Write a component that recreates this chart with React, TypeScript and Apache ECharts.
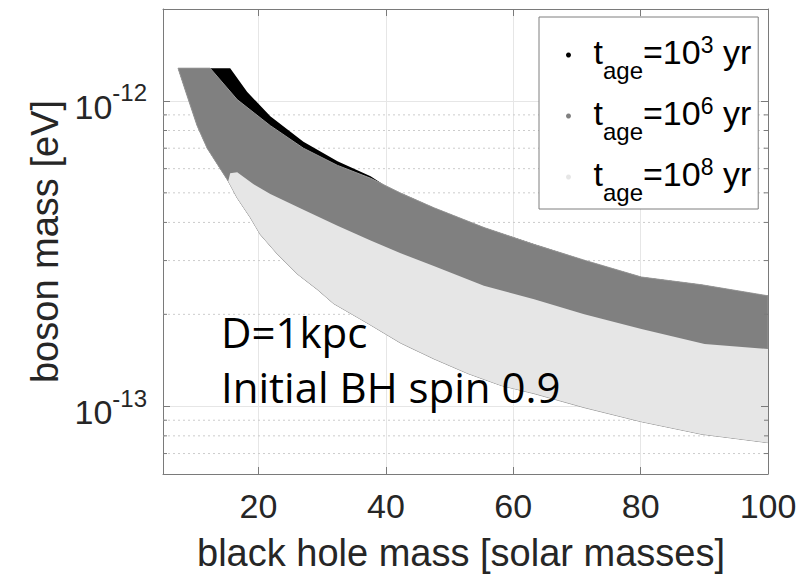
import React, { useEffect, useRef } from 'react';
import * as echarts from 'echarts';

const FONT = '"Liberation Sans", Arial, Helvetica, sans-serif';
const AXIS_COLOR = '#7a7a7a';
const LABEL_COLOR = '#262626';

// axis ranges
const massMin = 5;
const massMax = 100;
const bosonMin = 6e-14;
const bosonMax = 2e-12;

// tick labels
const massTickLabels = [20, 40, 60, 80, 100];
const bosonDecades = [-13, -12];
const minorBosonTicks = [7e-14, 8e-14, 9e-14, 2e-13, 3e-13, 4e-13, 5e-13, 6e-13, 7e-13, 8e-13, 9e-13];

// legend
const seriesNames = ['t_age=10^3 yr', 't_age=10^6 yr', 't_age=10^8 yr'];
const ageExponents = [3, 6, 8];
const regionColors = ['#000000', '#808080', '#e6e6e6'];

// common lower boundary of the allowed regions
const lowerMass = [7.36, 8.78, 10.35, 11.93, 13.98, 15.24, 16.65, 18.7, 20.28, 22.95, 26.1, 29.25, 31.77, 37.13, 42.32, 47.52, 52.87, 58.07, 63.27, 71.14, 80.12, 89.57, 100];
const lowerBoson = [1.28e-12, 1.04e-12, 8.3e-13, 7.0e-13, 6.0e-13, 5.46e-13, 4.81e-13, 4.15e-13, 3.65e-13, 3.15e-13, 2.71e-13, 2.41e-13, 2.17e-13, 1.87e-13, 1.61e-13, 1.43e-13, 1.28e-13, 1.17e-13, 1.1e-13, 9.9e-14, 8.9e-14, 8.1e-14, 7.6e-14];

// t_age = 1e3 yr upper boundary
const blackUpperMass = [7.36, 15.55, 18.23, 21.85, 27.05, 32.4, 37.6, 39.96, 42.32, 47.52, 55.39, 63.27, 71.14, 80.12, 89.57, 100];
const blackUpperBoson = [1.28e-12, 1.28e-12, 1.07e-12, 8.9e-13, 7.35e-13, 6.34e-13, 5.67e-13, 5.26e-13, 4.99e-13, 4.47e-13, 3.85e-13, 3.39e-13, 3.01e-13, 2.65e-13, 2.5e-13, 2.3e-13];

// t_age = 1e6 yr upper boundary
const grayUpperMass = [7.36, 12.4, 16.65, 21.85, 27.05, 32.4, 37.6, 42.32, 47.52, 55.39, 63.27, 71.14, 80.12, 89.57, 100];
const grayUpperBoson = [1.28e-12, 1.28e-12, 1.01e-12, 8.3e-13, 7.0e-13, 6.15e-13, 5.58e-13, 4.99e-13, 4.47e-13, 3.85e-13, 3.39e-13, 3.01e-13, 2.65e-13, 2.5e-13, 2.3e-13];

// t_age = 1e8 yr upper boundary
const lightUpperMass = [15.24, 15.55, 16.65, 19.17, 21.85, 27.05, 32.4, 37.6, 42.32, 47.52, 55.39, 63.27, 71.14, 80.12, 90.04, 100];
const lightUpperBoson = [5.46e-13, 5.8e-13, 5.84e-13, 5.34e-13, 4.96e-13, 4.4e-13, 3.9e-13, 3.49e-13, 3.17e-13, 2.88e-13, 2.48e-13, 2.24e-13, 2.0e-13, 1.79e-13, 1.6e-13, 1.54e-13];

function regionSeries(
  name: string,
  color: string,
  upM: number[],
  upB: number[],
  loM: number[],
  loB: number[],
  z: number,
  stroke?: string
) {
  const upper = upM.map((m, i) => [m, upB[i]]);
  const lower = loM.map((m, i) => [m, loB[i]]).filter((p) => p[0] >= upM[0]);
  const data = [...upper, ...lower.reverse()];
  return {
    type: 'custom',
    name,
    z,
    silent: true,
    data,
    encode: { x: 0, y: 1 },
    itemStyle: { color },
    renderItem: (params: any, api: any) => {
      if (params.dataIndex !== 0) return null;
      const pts = data.map((d) => api.coord(d));
      return {
        type: 'polygon',
        shape: { points: pts },
        style: stroke ? { fill: color, stroke, lineWidth: 1 } : { fill: color },
      };
    },
  };
}

export default function App() {
  const ref = useRef<HTMLDivElement>(null);
  useEffect(() => {
    if (!ref.current) return;
    const chart = echarts.init(ref.current, undefined, { renderer: 'svg' });

    const bigFs = 34;
    const option: any = {
      animation: false,
      backgroundColor: '#ffffff',
      grid: { left: 163, top: 9, right: 36, bottom: 97, containLabel: false },
      legend: {
        orient: 'vertical',
        left: 539,
        top: 17,
        padding: [16, 7, 5, 27],
        itemGap: 12,
        itemWidth: 40,
        itemHeight: 5,
        icon: 'circle',
        selectedMode: false,
        backgroundColor: '#ffffff',
        borderColor: '#7f7f7f',
        borderWidth: 1,
        borderRadius: 0,
        data: seriesNames,
        formatter: (name: string) => {
          const e = ageExponents[seriesNames.indexOf(name)];
          return `{t|t}{sub|age}{b|=10}{sup|${e}}{b| yr}`;
        },
        textStyle: {
          fontFamily: FONT,
          color: '#000',
          rich: {
            t: { fontFamily: FONT, fontSize: bigFs, color: '#000', verticalAlign: 'top', padding: [13, 0, 0, 0] },
            b: { fontFamily: FONT, fontSize: bigFs, color: '#000', verticalAlign: 'top', padding: [13, 0, 0, 0] },
            sub: { fontFamily: FONT, fontSize: 24, color: '#000', verticalAlign: 'top', padding: [36, 0, 6, 0] },
            sup: { fontFamily: FONT, fontSize: 23, color: '#000', verticalAlign: 'top', padding: [11, 0, 0, 0] },
          },
        },
      },
      xAxis: [
        {
          type: 'value',
          min: massMin,
          max: massMax,
          position: 'bottom',
          name: 'black hole mass [solar masses]',
          nameLocation: 'middle',
          nameGap: 60,
          nameTextStyle: { fontFamily: FONT, fontSize: 38, color: LABEL_COLOR, padding: [0, 9, 0, 0] },
          axisLine: { show: true, onZero: false, lineStyle: { color: AXIS_COLOR, width: 1 } },
          axisTick: { show: true, inside: true, length: 7, lineStyle: { color: AXIS_COLOR } },
          axisLabel: {
            show: true,
            margin: 15,
            fontFamily: FONT,
            fontSize: bigFs,
            color: LABEL_COLOR,
            showMinLabel: false,
            showMaxLabel: true,
            formatter: (v: number) => (massTickLabels.includes(Math.round(v)) ? String(Math.round(v)) : ''),
          },
          splitLine: { show: true, lineStyle: { color: '#e6e6e6', width: 1 } },
        },
        {
          type: 'value',
          min: massMin,
          max: massMax,
          position: 'top',
          z: 10,
          axisLine: { show: true, onZero: false, lineStyle: { color: AXIS_COLOR, width: 1 } },
          axisTick: { show: true, inside: true, length: 7, lineStyle: { color: AXIS_COLOR } },
          axisLabel: { show: false },
          splitLine: { show: false },
        },
      ],
      yAxis: [
        {
          type: 'log',
          logBase: 10,
          min: bosonMin,
          max: bosonMax,
          position: 'left',
          name: 'boson mass [eV]',
          nameLocation: 'middle',
          nameGap: 95,
          nameRotate: 90,
          nameTextStyle: { fontFamily: FONT, fontSize: 38, color: LABEL_COLOR },
          axisLine: { show: true, onZero: false, lineStyle: { color: AXIS_COLOR, width: 1 } },
          axisTick: { show: true, inside: true, length: 7, lineStyle: { color: AXIS_COLOR } },
          axisLabel: {
            show: true,
            margin: 16,
            showMinLabel: false,
            showMaxLabel: false,
            formatter: (v: number) => {
              const l = Math.log10(v);
              const r = Math.round(l);
              if (Math.abs(l - r) < 1e-6 && bosonDecades.includes(r)) return `{b|10}{s|${r}}`;
              return '';
            },
            rich: {
              b: { fontFamily: FONT, fontSize: bigFs, color: LABEL_COLOR, verticalAlign: 'top', padding: [12, 0, 0, 0] },
              s: { fontFamily: FONT, fontSize: 24, color: LABEL_COLOR, verticalAlign: 'top', padding: [3, 0, 0, 0] },
            },
          },
          splitLine: { show: true, lineStyle: { color: '#e6e6e6', width: 1 } },
        },
        {
          type: 'log',
          logBase: 10,
          min: bosonMin,
          max: bosonMax,
          position: 'right',
          z: 10,
          axisLine: { show: true, onZero: false, lineStyle: { color: AXIS_COLOR, width: 1 } },
          axisTick: { show: true, inside: true, length: 7, lineStyle: { color: AXIS_COLOR } },
          axisLabel: { show: false },
          splitLine: { show: false },
        },
      ],
      graphic: [
        {
          type: 'text',
          x: 221,
          y: 331,
          z: 100,
          style: { text: 'D=1kpc', font: '42px "Open Sans"', fill: '#000', verticalAlign: 'middle', align: 'left' },
        },
        {
          type: 'text',
          x: 221,
          y: 386,
          z: 100,
          style: { text: 'Initial BH spin 0.9', font: '42px "Open Sans"', fill: '#000', verticalAlign: 'middle', align: 'left' },
        },
      ],
      series: [
        {
          type: 'custom',
          name: 'minor grid',
          z: 1,
          silent: true,
          data: minorBosonTicks.map((v) => [massMin, v]),
          encode: { x: 0, y: 1 },
          renderItem: (params: any, api: any) => {
            const y = api.value(1);
            const p0 = api.coord([massMin, y]);
            const p1 = api.coord([massMax, y]);
            return {
              type: 'line',
              shape: { x1: p0[0], y1: p0[1], x2: p1[0], y2: p1[1] },
              style: { stroke: '#cccccc', lineWidth: 1, lineDash: [2, 3] },
            };
          },
        },
        regionSeries(seriesNames[0], regionColors[0], blackUpperMass, blackUpperBoson, lowerMass, lowerBoson, 2),
        regionSeries(seriesNames[1], regionColors[1], grayUpperMass, grayUpperBoson, lowerMass, lowerBoson, 3, '#999999'),
        regionSeries(seriesNames[2], regionColors[2], lightUpperMass, lightUpperBoson, lowerMass, lowerBoson, 4),
        {
          type: 'custom',
          name: 'minor ticks',
          z: 10,
          silent: true,
          data: minorBosonTicks.map((v) => [massMin, v]),
          encode: { x: 0, y: 1 },
          renderItem: (params: any, api: any) => {
            const y = api.value(1);
            const p0 = api.coord([massMin, y]);
            const p1 = api.coord([massMax, y]);
            return {
              type: 'group',
              children: [
                { type: 'line', shape: { x1: p0[0], y1: p0[1], x2: p0[0] + 4, y2: p0[1] }, style: { stroke: AXIS_COLOR, lineWidth: 1 } },
                { type: 'line', shape: { x1: p1[0] - 4, y1: p1[1], x2: p1[0], y2: p1[1] }, style: { stroke: AXIS_COLOR, lineWidth: 1 } },
              ],
            };
          },
        },
      ],
    };
    chart.setOption(option);
    return () => chart.dispose();
  }, []);

  return <div ref={ref} style={{ position: 'fixed', left: 0, top: 0, width: 804, height: 577 }} />;
}
